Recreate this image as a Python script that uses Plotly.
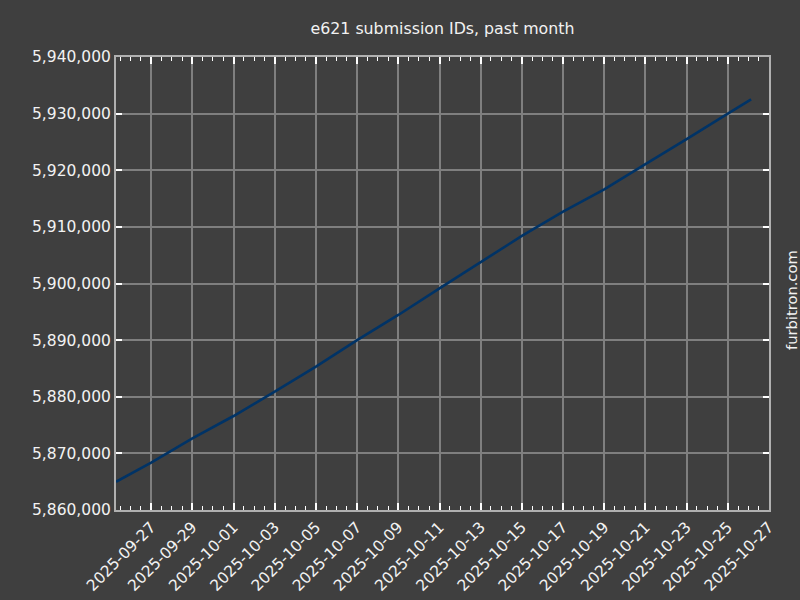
"""e621 submission IDs over the past month, dark matplotlib-like styling."""
import plotly.graph_objects as go

# Readings taken off the reference chart
timestamps = [
    "2025-09-25 07:00", "2025-09-27 00:00", "2025-09-29 00:00", "2025-10-01 00:00",
    "2025-10-03 00:00", "2025-10-05 00:00", "2025-10-07 00:00", "2025-10-09 00:00",
    "2025-10-11 00:00", "2025-10-13 00:00", "2025-10-15 00:00", "2025-10-17 00:00",
    "2025-10-19 00:00", "2025-10-21 00:00", "2025-10-22 05:20", "2025-10-23 00:00",
    "2025-10-25 00:00", "2025-10-26 03:10",
]
submission_ids = [
    5864990, 5868350, 5872660, 5876600,
    5880890, 5885310, 5890000, 5894440,
    5899150, 5903850, 5908400, 5912680,
    5916630, 5921100, 5923700, 5925500,
    5930000, 5932530,
]

BG = "#3f3f3f"
GRID = "#7f7f7f"
SPINE = "#b0b0b0"
TEXT = "#f2f2f2"
LINE = "#003366"

fig = go.Figure()
fig.add_trace(go.Scatter(
    x=timestamps, y=submission_ids, mode="lines",
    line=dict(color=LINE, width=2.6),
    showlegend=False, hoverinfo="x+y",
))

fig.update_layout(
    width=800, height=600,
    paper_bgcolor=BG, plot_bgcolor=BG,
    margin=dict(l=116, r=31, t=57, b=90),
    font=dict(family="DejaVu Sans", color=TEXT, size=15.5),
    title=dict(
        text="e621 submission IDs, past month",
        font=dict(size=15.8, color=TEXT),
        x=0.5, xref="paper", xanchor="center",
        y=1 - 28 / 600, yref="container", yanchor="middle",
    ),
    annotations=[dict(
        text="furbitron.com", textangle=-90,
        # paper coords of the plot area -> page pixel (791, 300)
        x=(791 - 116) / (800 - 116 - 31), y=(510 - 300) / (510 - 57),
        xref="paper", yref="paper", borderpad=0,
        xanchor="center", yanchor="middle", showarrow=False,
        font=dict(size=14.7, color=TEXT),
    )],
)

fig.update_xaxes(
    type="date", automargin=False,
    range=["2025-09-25 07:00", "2025-10-27 00:00"],
    tick0="2025-09-27", dtick=2 * 86400000,
    tickformat="%Y-%m-%d", tickangle=-45,
    ticks="inside", ticklen=7, tickwidth=1.5, tickcolor="white",
    minor=dict(dtick=12 * 3600000, tick0="2025-09-27", ticks="inside",
               ticklen=4, tickwidth=1.2, tickcolor="white", showgrid=False),
    showgrid=True, gridcolor=GRID, gridwidth=2,
    showline=True, linecolor=SPINE, linewidth=2, mirror="allticks",
    zeroline=False, tickfont=dict(size=15.5, color=TEXT),
)
fig.update_yaxes(
    range=[5860000, 5940000], dtick=10000, tickformat=",d", automargin=False,
    ticks="inside", ticklen=6, tickwidth=1.5, tickcolor="white",
    showgrid=True, gridcolor=GRID, gridwidth=2,
    showline=True, linecolor=SPINE, linewidth=2, mirror="allticks",
    zeroline=False, tickfont=dict(size=15.5, color=TEXT),
)

fig.write_html(
    "out.html",
    config={"displayModeBar": False},
    post_script="document.body.style.margin='0';document.body.style.overflow='hidden';",
)
